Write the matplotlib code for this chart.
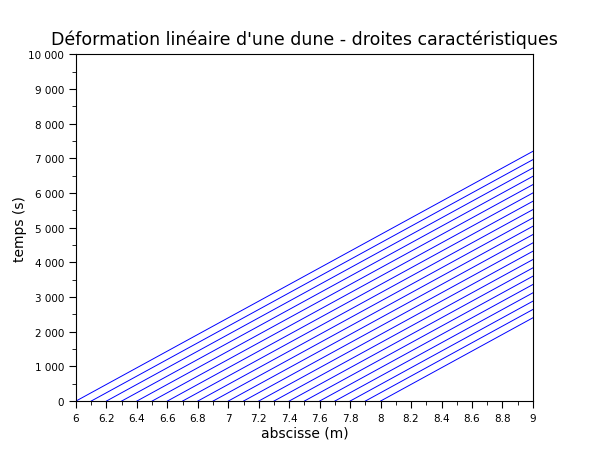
import matplotlib
matplotlib.use("Agg")
import matplotlib.pyplot as plt
from matplotlib.ticker import MultipleLocator, FuncFormatter

# characteristic lines: start abscissa at t=0, time reached at x=9
x_start = [6.0, 6.1, 6.2, 6.3, 6.4, 6.5, 6.6, 6.7, 6.8, 6.9, 7.0,
           7.1, 7.2, 7.3, 7.4, 7.5, 7.6, 7.7, 7.8, 7.9, 8.0]
t_at_end = [7200, 6960, 6720, 6480, 6240, 6000, 5760, 5520, 5280, 5040, 4800,
            4560, 4320, 4080, 3840, 3600, 3360, 3120, 2880, 2640, 2400]
x_end = 9.0

plt.rcParams['font.family'] = ['DejaVu Sans']

fig = plt.figure(figsize=(6.1, 4.6), dpi=100)
ax = fig.add_axes([0.1246, 0.126, 0.749, 0.754])

for x0, t1 in zip(x_start, t_at_end):
    ax.plot([x0, x_end], [0, t1], color="#0000ff", linewidth=0.7)

ax.set_xlim(6, 9)
ax.set_ylim(0, 10000)
ax.xaxis.set_major_locator(MultipleLocator(0.2))
ax.xaxis.set_minor_locator(MultipleLocator(0.1))
ax.yaxis.set_major_locator(MultipleLocator(1000))
ax.yaxis.set_minor_locator(MultipleLocator(500))
ax.xaxis.set_major_formatter(FuncFormatter(lambda v, p: f"{v:g}"))
ax.yaxis.set_major_formatter(FuncFormatter(lambda v, p: f"{int(round(v)):,}".replace(",", " ")))
ax.tick_params(which="both", direction="out", top=False, right=False, labelsize=7.5)
ax.tick_params(which="major", length=5)
ax.tick_params(which="minor", length=3)

ax.set_xlabel("abscisse (m)", fontsize=10, labelpad=2)
ax.set_ylabel("temps (s)", fontsize=10, labelpad=1)
ax.set_title("Déformation linéaire d'une dune - droites caractéristiques", fontsize=12.5, pad=7)

fig.savefig("out.png", dpi=100)
